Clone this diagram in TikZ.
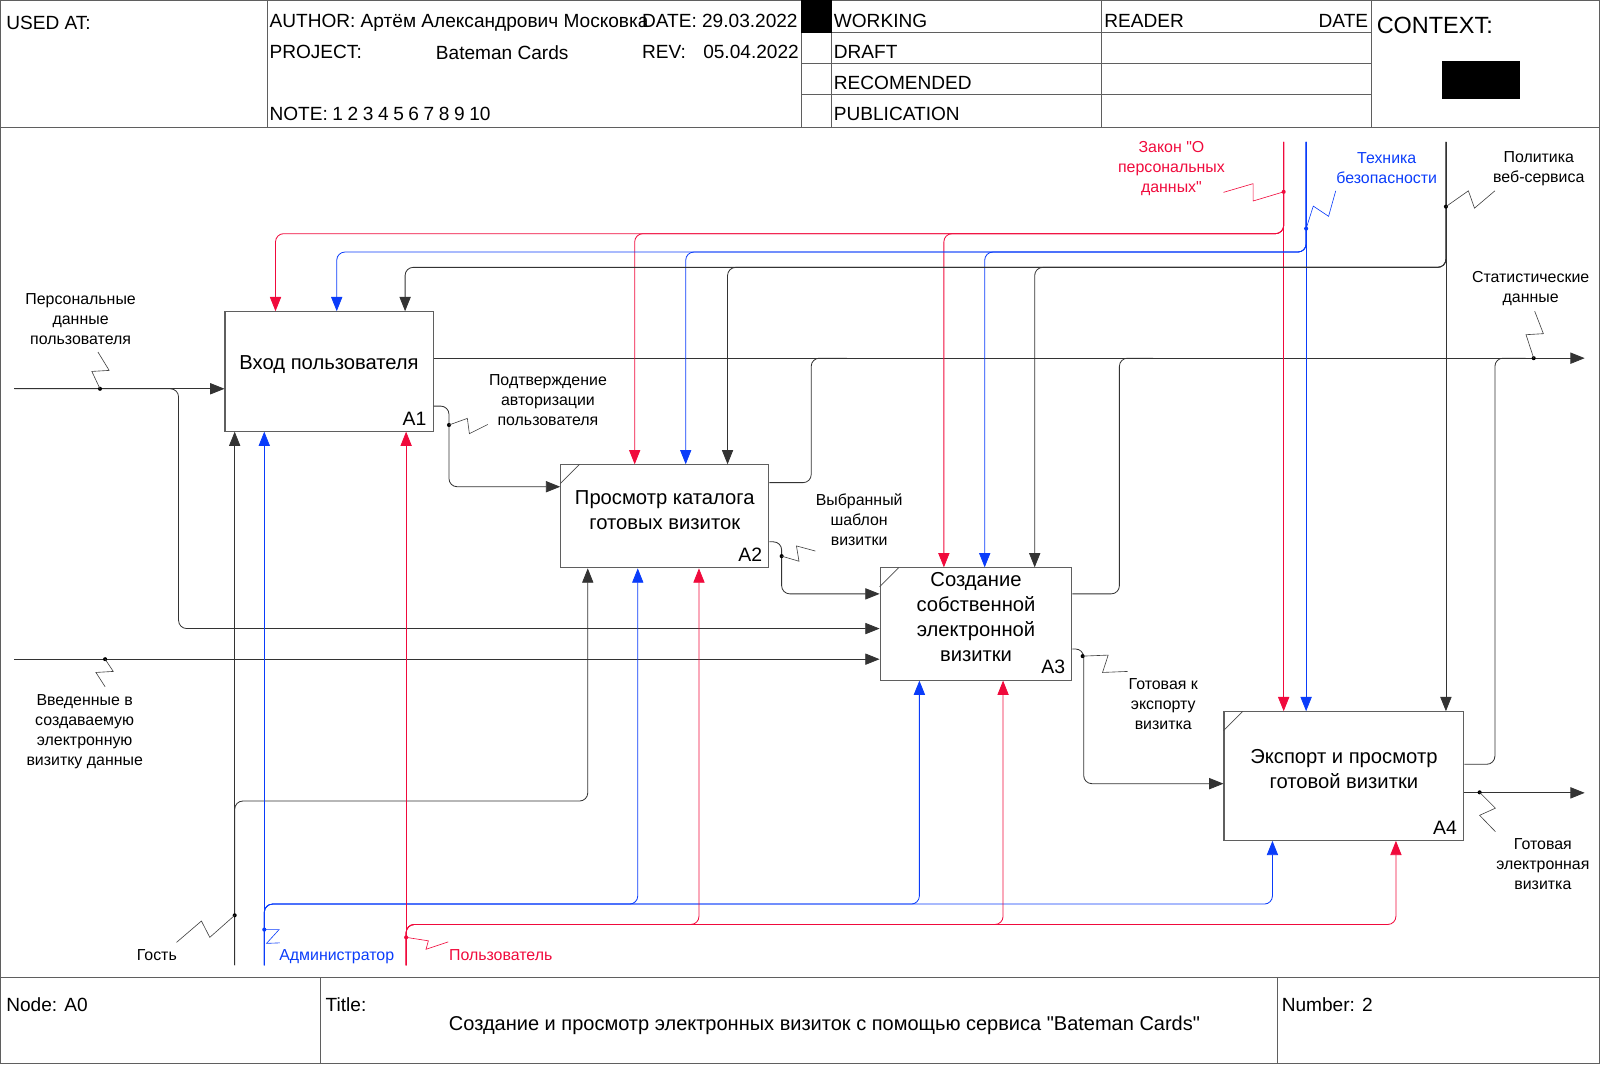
\documentclass[tikz,border=0pt]{standalone}
\usepackage{fontspec}
\setmainfont{Liberation Sans}[Ligatures=TeXOff]
\usetikzlibrary{arrows.meta}
\definecolor{ired}{RGB}{240,10,60}
\definecolor{iblue}{RGB}{10,60,250}
\definecolor{frame}{RGB}{95,95,95}
\begin{document}
\begin{tikzpicture}[x=1pt,y=-1pt,
  frm/.style={draw=frame, line width=1pt},
  ln/.style={line width=0.8pt, draw=black!80},
  rl/.style={line width=0.8pt, draw=ired},
  bl/.style={line width=0.8pt, draw=iblue},
  tip/.style={-{Triangle[length=14pt,width=11pt]}},
  rc/.style={rounded corners=8pt},
  sq/.style={line width=0.6pt},
  box/.style={draw=frame, line width=1pt, inner sep=0pt, anchor=north west},
  btext/.style={font=\fontsize{19.8}{24.5}\selectfont, align=center, inner sep=0pt},
  bnum/.style={font=\fontsize{19}{22}\selectfont, anchor=base east, inner sep=0pt},
  lbl/.style={font=\fontsize{15.6}{19.6}\selectfont, align=center, inner sep=0pt},
  hd/.style={font=\fontsize{18.7}{22}\selectfont, anchor=base west, inner sep=0pt},
  dot/.style={circle, fill, inner sep=0pt, minimum size=4pt},
]
\useasboundingbox (0,0) rectangle (1568,1043);
% ---------- frame, header, footer ----------
\draw[frm] (0.5,0.5) rectangle (1567.5,1042.5);
\draw[frm] (0,125) -- (1568,125);
\draw[frm] (262,0) -- (262,125) (785,0) -- (785,125) (815,0) -- (815,125)
           (1079,0) -- (1079,125) (1344,0) -- (1344,125);
\draw[frm] (785,32) -- (1344,32) (785,62) -- (1344,62) (785,93) -- (1344,93);
\fill (785,0) rectangle (815,32);
\fill (1413,60) rectangle (1490,97);
\draw[frm] (0,958) -- (1568,958) (314,958) -- (314,1043) (1252,958) -- (1252,1043);

\node[hd] (usedat) at (6,28.5) {USED AT:};
\node[hd] (author) at (264,26.5) {AUTHOR: Артём Александрович Московка};
\node[hd] (date) at (629,26.5) {DATE: 29.03.2022};
\node[hd] (proj) at (264,57) {PROJECT:};
\node[hd] (projn) at (427,58) {Bateman Cards};
\node[hd] (rev) at (629,57) {REV:};
\node[hd] (revd) at (689,57) {05.04.2022};
\node[hd] (note) at (264,118) {\spaceskip=4.5pt NOTE: 1 2 3 4 5 6 7 8 9 10};
\node[hd] (working) at (817,27) {WORKING};
\node[hd] (draft) at (817,57.5) {DRAFT};
\node[hd] (recom) at (817,87.5) {RECOMENDED};
\node[hd] (publ) at (817,117.8) {PUBLICATION};
\node[hd] (reader) at (1082,27) {READER};
\node[hd, anchor=base east] (rdate) at (1341,27) {DATE};
\node[hd, font=\fontsize{23}{26}\selectfont] (context) at (1349,32.7) {CONTEXT:};

\node[hd] (nodeA0) at (6,991) {Node: A0};
\node[hd] (titlel) at (319,991) {Title:};
\node[hd] (number) at (1256,991) {Number: 2};
\node[hd, anchor=base, font=\fontsize{19.6}{22}\selectfont] (title) at (808,1010) {Создание и просмотр электронных визиток с помощью сервиса "Bateman Cards"};

% ---------- boxes ----------
\node[box, minimum width=204pt, minimum height=117pt] (A1) at (220,305) {};
\node[btext] (t1) at ([yshift=6.5pt]A1.center) {Вход пользователя};
\node[bnum] (n1) at ([xshift=-7pt,yshift=6.5pt]A1.south east) {A1};

\node[box, minimum width=204pt, minimum height=101pt] (A2) at (549,455) {};
\node[btext] (t2) at ([yshift=6.5pt]A2.center) {Просмотр каталога\\готовых визиток};
\node[bnum] (n2) at ([xshift=-7pt,yshift=6.5pt]A2.south east) {A2};
\draw[sq, draw=black!70] ([yshift=-19pt]A2.north west) -- ([xshift=19pt]A2.north west);

\node[box, minimum width=188pt, minimum height=110pt] (A3) at (862,556) {};
\node[btext] (t3) at ([yshift=7pt]A3.center) {Создание\\собственной\\электронной\\визитки};
\node[bnum] (n3) at ([xshift=-7pt,yshift=6.5pt]A3.south east) {A3};
\draw[sq, draw=black!70] ([yshift=-19pt]A3.north west) -- ([xshift=19pt]A3.north west);

\node[box, minimum width=235pt, minimum height=126pt] (A4) at (1199,697) {};
\node[btext] (t4) at ([yshift=6.5pt]A4.center) {Экспорт и просмотр\\готовой визитки};
\node[bnum] (n4) at ([xshift=-7pt,yshift=6.5pt]A4.south east) {A4};
\draw[sq, draw=black!70] ([yshift=-19pt]A4.north west) -- ([xshift=19pt]A4.north west);

% ---------- free ends ----------
\coordinate (inP) at (14,381);
\coordinate (inV) at (14,646);
\coordinate (cR) at (1258,139);
\coordinate (cB) at (1280,139);
\coordinate (cK) at (1417,139);
\coordinate (mK) at (230,946);
\coordinate (mB) at (259,946);
\coordinate (mR) at (398,946);
\coordinate (outS) at (1553,351);
\coordinate (outV) at (1553,777);

% ---------- inputs ----------
\draw[ln,tip] (inP) -- (inP -| A1.west);
\draw[ln,rc,tip] (inP) -- (175,381) -- (175,616) -- (862,616 -| A3.west);
\draw[ln,tip] (inV) -- (inV -| A3.west);

% ---------- outputs ----------
\draw[ln,tip] (A1.east |- outS) -- (outS);
\draw[ln,rc] (A2.east |- 0,473) -- (795,473) -- (795,351) -- (830,351);
\draw[ln,rc] (A3.east |- 0,582) -- (1097,582) -- (1097,351) -- (1130,351);
\draw[ln,rc] (A4.east |- 0,749) -- (1465,749) -- (1465,351) -- (1495,351);
\draw[ln,rc,tip] (A1.east |- 0,398) -- (440,398) -- (440,477) -- (A2.west |- 0,477);
\draw[ln,rc,tip] (A2.east |- 0,531) -- (766,531) -- (766,582) -- (A3.west |- 0,582);
\draw[ln,rc,tip] (A3.east |- 0,636) -- (1062,636) -- (1062,768) -- (A4.west |- 0,768);
\draw[ln,tip] (A4.east |- outV) -- (outV);

% ---------- controls ----------
\draw[rl,tip] (cR) -- (cR |- A4.north);
\draw[rl,rc,tip] (cR) -- (1258,229) -- (270,229) -- (270,0 |- A1.north);
\draw[rl,rc,tip] (cR) -- (1258,229) -- (622,229) -- (622,0 |- A2.north);
\draw[rl,rc,tip] (cR) -- (1258,229) -- (925,229) -- (925,0 |- A3.north);

\draw[bl,tip] (cB) -- (cB |- A4.north);
\draw[bl,rc,tip] (cB) -- (1280,247) -- (330,247) -- (330,0 |- A1.north);
\draw[bl,rc,tip] (cB) -- (1280,247) -- (672,247) -- (672,0 |- A2.north);
\draw[bl,rc,tip] (cB) -- (1280,247) -- (965,247) -- (965,0 |- A3.north);

\draw[ln,tip] (cK) -- (cK |- A4.north);
\draw[ln,rc,tip] (cK) -- (1417,262) -- (397,262) -- (397,0 |- A1.north);
\draw[ln,rc,tip] (cK) -- (1417,262) -- (713,262) -- (713,0 |- A2.north);
\draw[ln,rc,tip] (cK) -- (1417,262) -- (1014,262) -- (1014,0 |- A3.north);

% ---------- mechanisms ----------
\draw[ln,tip] (mK) -- (mK |- A1.south);
\draw[ln,rc,tip] (mK) -- (230,785) -- (576,785) -- (576,0 |- A2.south);

\draw[bl,tip] (mB) -- (mB |- A1.south);
\draw[bl,rc,tip] (mB) -- (259,886) -- (625,886) -- (625,0 |- A2.south);
\draw[bl,rc,tip] (mB) -- (259,886) -- (901,886) -- (901,0 |- A3.south);
\draw[bl,rc,tip] (mB) -- (259,886) -- (1247,886) -- (1247,0 |- A4.south);

\draw[rl,tip] (mR) -- (mR |- A1.south);
\draw[rl,rc,tip] (mR) -- (398,906) -- (685,906) -- (685,0 |- A2.south);
\draw[rl,rc,tip] (mR) -- (398,906) -- (983,906) -- (983,0 |- A3.south);
\draw[rl,rc,tip] (mR) -- (398,906) -- (1368,906) -- (1368,0 |- A4.south);

% ---------- labels with squiggles ----------
\node[dot] (d1) at (98,381) {};
\draw[sq, draw=black!75] (d1.center) -- (90,364) -- (107,363) -- (96,345);
\node[lbl] (l1) at (79,313) {Персональные\\данные\\пользователя};

\node[dot] (d2) at (103,646) {};
\draw[sq, draw=black!75] (d2.center) -- (111,658) -- (94,659) -- (103,673);
\node[lbl] (l2) at (83,717) {Введенные в\\создаваемую\\электронную\\визитку данные};

\node[dot] (d3) at (440,416.5) {};
\draw[sq, draw=black!75] (d3.center) -- (458,410) -- (460,425) -- (478,416);
\node[lbl] (l3) at (537,392) {Подтверждение\\авторизации\\пользователя};

\node[dot] (d4) at (766,545) {};
\draw[sq, draw=black!75] (d4.center) -- (783,550) -- (780.5,535) -- (799,540);
\node[lbl] (l4) at (842,509.6) {Выбранный\\шаблон\\визитки};

\node[dot] (d5) at (1061,643) {};
\draw[sq, draw=black!75] (d5.center) -- (1086,642) -- (1080.5,659) -- (1105,658);
\node[lbl] (l5) at (1140,690) {Готовая к\\экспорту\\визитка};

\node[dot, fill=ired] (d6) at (1258,188) {};
\draw[sq, draw=ired] (d6.center) -- (1228,197) -- (1228,180) -- (1199,188.5);
\node[lbl, text=ired] (l6) at (1148,165) {Закон "О\\персональных\\данных"};

\node[dot, fill=iblue] (d7) at (1280,224) {};
\draw[sq, draw=iblue] (d7.center) -- (1287,202) -- (1302,212) -- (1309,187);
\node[lbl, text=iblue] (l7) at (1359,165) {Техника\\безопасности};

\node[dot] (d8) at (1417,202.5) {};
\draw[sq, draw=black!75] (d8.center) -- (1439,187) -- (1445,204) -- (1465,187);
\node[lbl] (l8) at (1508,165) {Политика\\веб-сервиса};

\node[dot] (d9) at (1503,351) {};
\draw[sq, draw=black!75] (d9.center) -- (1495.5,328) -- (1512.5,327) -- (1504,305);
\node[lbl] (l9) at (1500,283) {Статистические\\данные};

\node[dot] (d10) at (1450,776.5) {};
\draw[sq, draw=black!75] (d10.center) -- (1465.5,792) -- (1450,799) -- (1465.5,815);
\node[lbl] (l10) at (1512,846.5) {Готовая\\электронная\\визитка};

\node[dot] (d11) at (230,897) {};
\draw[sq, draw=black!75] (d11.center) -- (205.6,918.6) -- (197.4,902.6) -- (173,923.5);
\node[lbl] (l11) at (153.7,936) {Гость};

\node[dot, fill=iblue] (d12) at (259,911) {};
\draw[sq, draw=iblue] (d12.center) -- (273.5,911) -- (261.2,924.5) -- (274.3,924);
\node[lbl, text=iblue] (l12) at (330,938) {Администратор};

\node[dot, fill=ired] (d13) at (398,918.6) {};
\draw[sq, draw=ired] (d13.center) -- (419.8,922) -- (417.5,930.3) -- (439.3,923);
\node[lbl, text=ired] (l13) at (490.7,936) {Пользователь};
\end{tikzpicture}
\end{document}
